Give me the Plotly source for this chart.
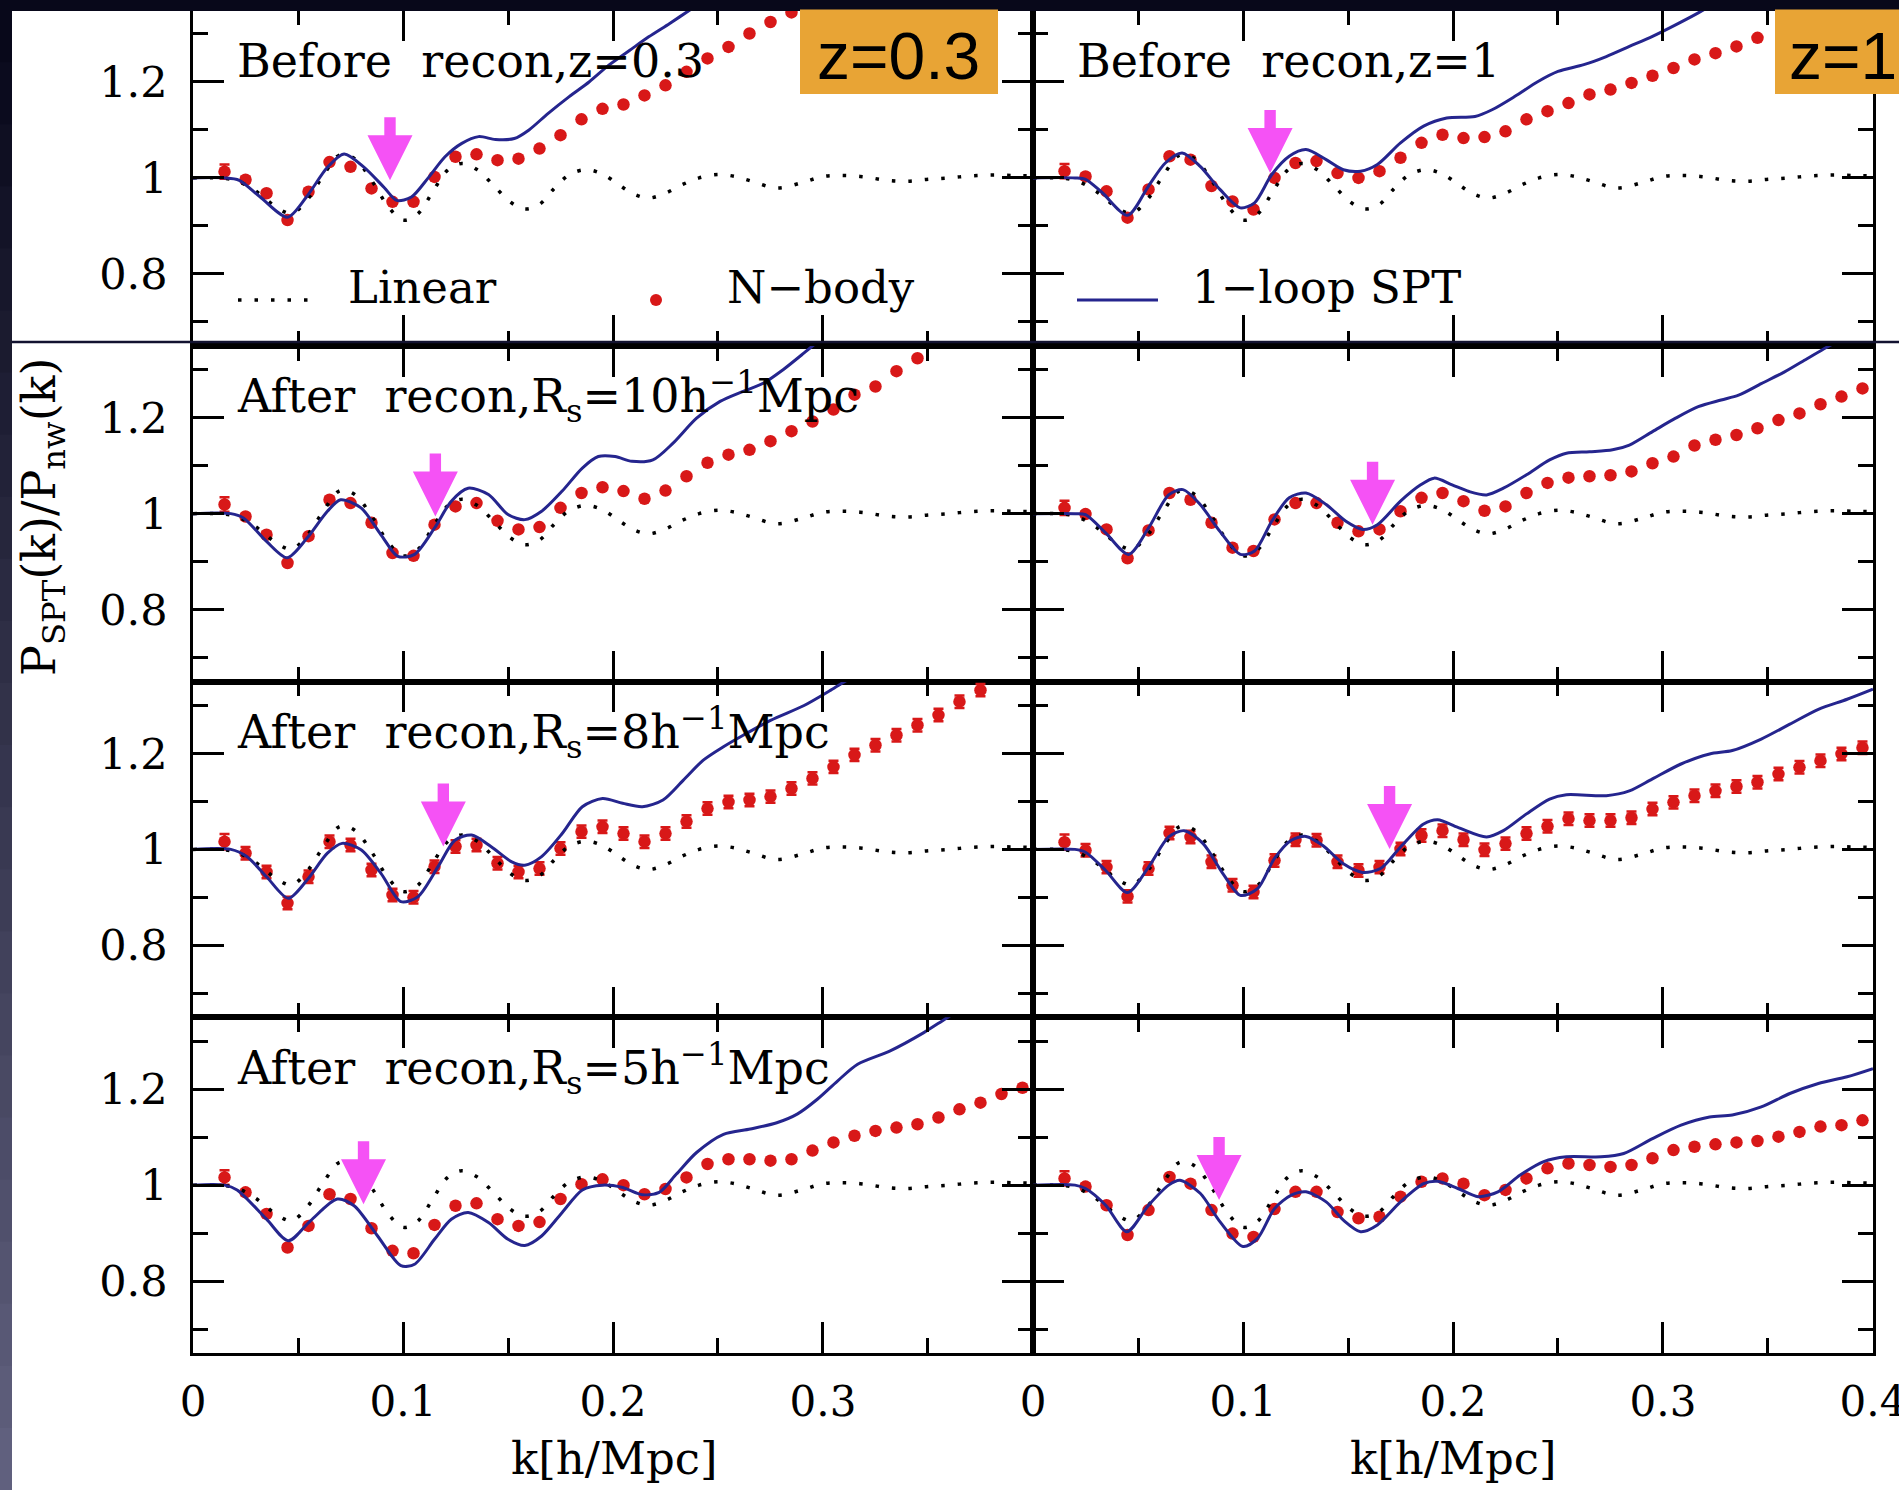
import plotly.graph_objects as go

# ---------------- data ----------------
NB_K = [0.015, 0.025, 0.035, 0.045, 0.055, 0.065, 0.075, 0.085, 0.095, 0.105,
        0.115, 0.125, 0.135, 0.145, 0.155, 0.165, 0.175, 0.185, 0.195, 0.205,
        0.215, 0.225, 0.235, 0.245, 0.255, 0.265, 0.275, 0.285, 0.295, 0.305,
        0.315, 0.325, 0.335, 0.345, 0.355, 0.365, 0.375, 0.385, 0.395]

NB_R1L = [1.013, 0.996, 0.968, 0.912, 0.971, 1.033, 1.023, 0.978, 0.950, 0.950,
          1.002, 1.044, 1.049, 1.037, 1.040, 1.061, 1.089, 1.122, 1.144, 1.153,
          1.172, 1.193, 1.221, 1.249, 1.273, 1.301, 1.325, 1.345, None, None,
          None, None, None, None, None, None, None, None, None]
NB_R1R = [1.014, 1.003, 0.972, 0.917, 0.976, 1.045, 1.038, 0.983, 0.951, 0.934,
          1.000, 1.031, 1.035, 1.010, 1.000, 1.014, 1.042, 1.073, 1.090, 1.083,
          1.085, 1.097, 1.122, 1.139, 1.156, 1.174, 1.184, 1.198, 1.213, 1.229,
          1.247, 1.260, 1.274, 1.292, None, None, None, None, None]
NB_R2L = [1.019, 0.994, 0.956, 0.897, 0.953, 1.029, 1.022, 0.981, 0.918, 0.912,
          0.977, 1.015, 1.022, 0.985, 0.967, 0.972, 1.012, 1.043, 1.055, 1.047,
          1.031, 1.048, 1.078, 1.106, 1.123, 1.133, 1.151, 1.172, 1.192, 1.217,
          1.248, 1.265, 1.297, 1.324, None, None, None, None, None]
NB_R2R = [1.012, 0.999, 0.967, 0.907, 0.965, 1.043, 1.029, 0.981, 0.929, 0.922,
          0.988, 1.022, 1.022, 0.981, 0.963, 0.967, 1.005, 1.033, 1.043, 1.026,
          1.006, 1.015, 1.043, 1.064, 1.075, 1.078, 1.080, 1.088, 1.105, 1.119,
          1.142, 1.154, 1.164, 1.178, 1.195, 1.209, 1.228, 1.244, 1.261]
NB_R3L = [1.016, 0.992, 0.953, 0.888, 0.943, 1.016, 1.009, 0.957, 0.905, 0.900,
          0.964, 1.006, 1.009, 0.971, 0.953, 0.960, 1.002, 1.037, 1.047, 1.033,
          1.016, 1.033, 1.058, 1.085, 1.099, 1.103, 1.110, 1.127, 1.148, 1.172,
          1.197, 1.217, 1.238, 1.259, 1.280, 1.308, 1.332, None, None]
NB_R3R = [1.015, 0.998, 0.963, 0.902, 0.960, 1.034, 1.026, 0.974, 0.925, 0.911,
          0.977, 1.020, 1.019, 0.974, 0.956, 0.963, 1.001, 1.029, 1.039, 1.020,
          0.999, 1.012, 1.033, 1.048, 1.064, 1.060, 1.060, 1.066, 1.084, 1.098,
          1.112, 1.122, 1.131, 1.140, 1.157, 1.171, 1.185, 1.199, 1.212]
NB_R4L = [1.016, 0.985, 0.940, 0.870, 0.915, 0.981, 0.971, 0.910, 0.863, 0.858,
          0.917, 0.957, 0.962, 0.929, 0.915, 0.923, 0.971, 1.002, 1.012, 1.000,
          0.981, 0.992, 1.016, 1.044, 1.054, 1.054, 1.051, 1.054, 1.072, 1.089,
          1.103, 1.113, 1.120, 1.127, 1.141, 1.158, 1.172, 1.190, 1.203]
NB_R4R = [1.014, 0.997, 0.958, 0.896, 0.948, 1.017, 1.003, 0.948, 0.899, 0.892,
          0.950, 0.986, 0.986, 0.944, 0.931, 0.934, 0.976, 1.007, 1.014, 1.003,
          0.979, 0.990, 1.014, 1.035, 1.045, 1.042, 1.038, 1.042, 1.056, 1.073,
          1.080, 1.085, 1.089, 1.092, 1.101, 1.111, 1.122, 1.125, 1.135]

ERR_A = [0.015, 0.006, 0.005, 0.005, 0.004, 0.004, 0.004, 0.004, 0.004, 0.004,
         0.003, 0.003, 0.003, 0.003, 0.003, 0.003, 0.003, 0.003, 0.003, 0.003,
         0.003, 0.003, 0.003, 0.003, 0.003, 0.003, 0.003, 0.003, 0.003, 0.003,
         0.003, 0.003, 0.003, 0.003, 0.003, 0.003, 0.003, 0.003, 0.003]
ERR_B = [0.016, 0.013, 0.013, 0.013, 0.013, 0.013, 0.013, 0.013, 0.013, 0.013,
         0.013, 0.013, 0.013, 0.013, 0.013, 0.013, 0.013, 0.013, 0.013, 0.013,
         0.013, 0.013, 0.013, 0.013, 0.013, 0.013, 0.013, 0.013, 0.013, 0.013,
         0.013, 0.013, 0.013, 0.013, 0.013, 0.013, 0.013, 0.013, 0.013]

LIN_K = [0, 0.01, 0.02, 0.03, 0.04, 0.047, 0.055, 0.062, 0.07, 0.077, 0.085, 0.093,
         0.1, 0.107, 0.114, 0.121, 0.128, 0.135, 0.143, 0.151, 0.158, 0.165, 0.172,
         0.179, 0.187, 0.195, 0.203, 0.21, 0.217, 0.225, 0.233, 0.241, 0.25, 0.258,
         0.266, 0.278, 0.29, 0.3, 0.31, 0.32, 0.33, 0.34, 0.35, 0.36, 0.37, 0.38,
         0.39, 0.4]
LIN_V = [1.0, 1.0, 0.995, 0.972, 0.938, 0.926, 0.958, 1.005, 1.048, 1.04, 0.995, 0.94,
         0.912, 0.925, 0.97, 1.015, 1.03, 1.018, 0.985, 0.95, 0.935, 0.945, 0.978,
         1.006, 1.017, 1.008, 0.985, 0.966, 0.958, 0.968, 0.986, 1.0, 1.007, 1.003,
         0.993, 0.979, 0.99, 1.003, 1.005, 1.002, 0.995, 0.993, 0.997, 1.0, 1.004,
         1.006, 1.005, 1.004]

SPT_R1L_K = [0, 0.015, 0.022, 0.032, 0.045, 0.054, 0.064, 0.072, 0.0815, 0.091, 0.097,
             0.104, 0.112, 0.12, 0.128, 0.136, 0.144, 0.153, 0.16, 0.169, 0.179, 0.1886,
             0.198, 0.208, 0.217, 0.227, 0.2366, 0.245]
SPT_R1L_V = [1.0, 1.0, 0.995, 0.96, 0.918, 0.96, 1.022, 1.05, 1.022, 0.98, 0.953,
             0.96, 1.0, 1.044, 1.072, 1.086, 1.08, 1.082, 1.10, 1.134, 1.169, 1.2,
             1.235, 1.266, 1.294, 1.322, 1.35, 1.375]
SPT_R1R_K = [0, 0.02, 0.025, 0.033, 0.045, 0.055, 0.063, 0.071, 0.0796, 0.089, 0.0987,
             0.1055, 0.1137, 0.122, 0.130, 0.1396, 0.1478, 0.156, 0.164, 0.175, 0.186,
             0.197, 0.2105, 0.2186, 0.2295, 0.2405, 0.25, 0.2623, 0.273, 0.284, 0.295,
             0.306, 0.3168, 0.325]
SPT_R1R_V = [1.0, 1.0, 0.997, 0.969, 0.922, 0.983, 1.031, 1.052, 1.024, 0.976, 0.9375,
             0.948, 1.007, 1.045, 1.059, 1.038, 1.017, 1.014, 1.028, 1.073, 1.108,
             1.125, 1.128, 1.142, 1.17, 1.201, 1.222, 1.236, 1.253, 1.274, 1.295,
             1.319, 1.344, 1.365]
SPT_R2L_K = [0, 0.018, 0.024, 0.035, 0.0448, 0.0543, 0.064, 0.0703, 0.08, 0.0895,
             0.0975, 0.1055, 0.115, 0.123, 0.131, 0.1407, 0.150, 0.158, 0.166, 0.1758,
             0.1854, 0.193, 0.201, 0.209, 0.219, 0.2286, 0.2398, 0.251, 0.262, 0.2717,
             0.281, 0.291, 0.2957, 0.305]
SPT_R2L_V = [1.0, 1.0, 0.991, 0.942, 0.908, 0.949, 1.005, 1.029, 1.012, 0.956,
             0.911, 0.915, 0.97, 1.026, 1.053, 1.04, 0.998, 0.9875, 1.005, 1.047,
             1.095, 1.119, 1.119, 1.109, 1.112, 1.147, 1.199, 1.234, 1.255, 1.272,
             1.30, 1.335, 1.352, 1.38]
SPT_R2R_K = [0, 0.02, 0.025, 0.0346, 0.0455, 0.055, 0.0646, 0.0714, 0.0796, 0.089,
             0.0987, 0.1055, 0.1137, 0.122, 0.130, 0.1396, 0.149, 0.157, 0.164, 0.175,
             0.1846, 0.191, 0.1996, 0.2077, 0.216, 0.224, 0.235, 0.246, 0.254, 0.265,
             0.276, 0.284, 0.295, 0.306, 0.3168, 0.3277, 0.336, 0.3468, 0.3577,
             0.3686, 0.378, 0.39]
SPT_R2R_V = [1.0, 1.0, 0.998, 0.96, 0.915, 0.97, 1.039, 1.05, 1.019, 0.963,
             0.915, 0.922, 0.984, 1.033, 1.043, 1.019, 0.984, 0.967, 0.977, 1.026,
             1.06, 1.074, 1.06, 1.046, 1.039, 1.053, 1.081, 1.112, 1.126, 1.129,
             1.133, 1.143, 1.171, 1.199, 1.223, 1.237, 1.247, 1.271, 1.295,
             1.323, 1.347, 1.375]
SPT_R3L_K = [0, 0.018, 0.0256, 0.035, 0.0454, 0.0543, 0.064, 0.071, 0.08, 0.0895,
             0.099, 0.107, 0.1167, 0.1247, 0.1327, 0.142, 0.1518, 0.158, 0.166, 0.1758,
             0.1854, 0.195, 0.2046, 0.214, 0.2238, 0.2334, 0.243, 0.2526, 0.262,
             0.275, 0.291, 0.3037, 0.31, 0.318]
SPT_R3L_V = [1.0, 1.0, 0.985, 0.943, 0.898, 0.936, 0.992, 1.0125, 0.999, 0.95,
             0.891, 0.901, 0.964, 1.019, 1.03, 1.0056, 0.974, 0.967, 0.985, 1.033,
             1.089, 1.106, 1.096, 1.089, 1.103, 1.144, 1.186, 1.214, 1.238,
             1.269, 1.30, 1.332, 1.349, 1.37]
SPT_R3R_K = [0, 0.02, 0.025, 0.0346, 0.045, 0.055, 0.0646, 0.072, 0.081, 0.0905,
             0.0987, 0.1069, 0.115, 0.123, 0.130, 0.138, 0.1478, 0.157, 0.1655, 0.175,
             0.186, 0.1927, 0.2023, 0.216, 0.224, 0.235, 0.246, 0.254, 0.273, 0.284,
             0.295, 0.3086, 0.3222, 0.333, 0.3468, 0.3604, 0.374, 0.3877, 0.4]
SPT_R3R_V = [1.0, 1.0, 0.994, 0.956, 0.91, 0.963, 1.026, 1.039, 1.012, 0.949,
             0.904, 0.918, 0.981, 1.019, 1.027, 1.008, 0.970, 0.952, 0.96, 1.005,
             1.053, 1.062, 1.046, 1.026, 1.039, 1.074, 1.105, 1.114, 1.112, 1.122,
             1.147, 1.178, 1.199, 1.206, 1.23, 1.261, 1.292, 1.313, 1.334]
SPT_R4L_K = [0, 0.015, 0.021, 0.035, 0.0454, 0.056, 0.0687, 0.0767, 0.0879, 0.099,
             0.1055, 0.115, 0.123, 0.131, 0.1407, 0.150, 0.158, 0.166, 0.1758, 0.1854,
             0.195, 0.2046, 0.214, 0.222, 0.2302, 0.2398, 0.2526, 0.2654, 0.278,
             0.2877, 0.2973, 0.3069, 0.3165, 0.332, 0.348, 0.358, 0.365]
SPT_R4L_V = [1.0, 1.0, 0.99, 0.929, 0.884, 0.926, 0.971, 0.957, 0.894, 0.832,
             0.835, 0.887, 0.929, 0.943, 0.922, 0.887, 0.874, 0.894, 0.943, 0.99,
             1.0, 0.995, 0.98, 0.985, 1.023, 1.068, 1.106, 1.117, 1.13,
             1.148, 1.179, 1.217, 1.252, 1.28, 1.318, 1.346, 1.365]
SPT_R4R_K = [0, 0.02, 0.025, 0.0346, 0.0447, 0.055, 0.0646, 0.070, 0.0796, 0.089,
             0.1, 0.1069, 0.115, 0.123, 0.130, 0.1396, 0.1478, 0.156, 0.164, 0.175,
             0.186, 0.1927, 0.2023, 0.212, 0.2214, 0.232, 0.2432, 0.254, 0.2705,
             0.2813, 0.295, 0.3086, 0.3222, 0.333, 0.3468, 0.3604, 0.374, 0.3877, 0.4]
SPT_R4R_V = [1.0, 1.0, 0.993, 0.958, 0.903, 0.958, 1.0, 1.01, 0.983, 0.924,
             0.872, 0.889, 0.951, 0.979, 0.986, 0.965, 0.927, 0.903, 0.917, 0.965,
             1.003, 1.008, 0.993, 0.976, 0.986, 1.021, 1.049, 1.059, 1.059,
             1.066, 1.097, 1.125, 1.142, 1.146, 1.163, 1.191, 1.212, 1.226, 1.243]

PANEL_LABELS = ["Before\u00a0 recon,z=0.3", "Before\u00a0 recon,z=1",
                "After\u00a0 recon,R<sub>s</sub>=10h<sup>\u2212</sup><sup>1</sup>Mpc", "",
                "After\u00a0 recon,R<sub>s</sub>=8h<sup>\u2212</sup><sup>1</sup>Mpc", "",
                "After\u00a0 recon,R<sub>s</sub>=5h<sup>\u2212</sup><sup>1</sup>Mpc", ""]
ARROW_K = [0.0938, 0.1129, 0.1154, 0.1617, 0.1192, 0.1698, 0.0812, 0.0886]
ARROW_V = [0.995, 1.010, 0.994, 0.977, 1.006, 1.001, 0.960, 0.969]

X_TICKS = [0, 0.1, 0.2, 0.3, 0.4]
X_TICKTEXT_LEFT = ["0", "0.1", "0.2", "0.3", " "]
X_TICKTEXT_RIGHT = ["0", "0.1", "0.2", "0.3", "0.4"]
Y_TICKS = [0.8, 1.0, 1.2]
Y_TICKTEXT = ["0.8", "1", "1.2"]

NB_SERIES = [NB_R1L, NB_R1R, NB_R2L, NB_R2R, NB_R3L, NB_R3R, NB_R4L, NB_R4R]
ERR_SERIES = [ERR_A, ERR_A, ERR_A, ERR_A, ERR_B, ERR_B, ERR_A, ERR_A]
SPT_SERIES = [(SPT_R1L_K, SPT_R1L_V), (SPT_R1R_K, SPT_R1R_V),
              (SPT_R2L_K, SPT_R2L_V), (SPT_R2R_K, SPT_R2R_V),
              (SPT_R3L_K, SPT_R3L_V), (SPT_R3R_K, SPT_R3R_V),
              (SPT_R4L_K, SPT_R4L_V), (SPT_R4R_K, SPT_R4R_V)]

# ---------------- layout constants ----------------
W, H = 1899, 1490
ML, MR, MT, MB = 193, 26, 10, 137
PW = W - ML - MR
PH = H - MT - MB
ROW_H = PH / 4.0

RED = "#D81818"
BLUE = "#25258E"
MAGENTA = "#F552F5"
ORANGE = "#E8A435"
SERIF = "DejaVu Serif"
DOT_DASH = "3.5px,13px"


def xp(px):
    return (px - ML) / PW


def yp(py):
    return (H - MB - py) / PH


fig = go.Figure()
shapes = []
annotations = []

XR = [0, 0.4]
YR = [0.65, 1.35]
XR_AX = [-0.00001, 0.40001]
dk_px = (XR[1] - XR[0]) / (PW / 2.0)
dv_px = (YR[1] - YR[0]) / ROW_H

for p in range(8):
    r, c = divmod(p, 2)
    n = p + 1
    xa = "x" if n == 1 else f"x{n}"
    ya = "y" if n == 1 else f"y{n}"
    xkey = "xaxis" if n == 1 else f"xaxis{n}"
    ykey = "yaxis" if n == 1 else f"yaxis{n}"

    fig.add_trace(go.Scatter(
        x=NB_K, y=NB_SERIES[p], mode="markers",
        marker=dict(symbol="circle", size=12.5, color=RED),
        error_y=dict(type="data", array=ERR_SERIES[p], color=RED, thickness=2.5, width=5),
        xaxis=xa, yaxis=ya, showlegend=False, hoverinfo="skip"))
    fig.add_trace(go.Scatter(
        x=LIN_K, y=LIN_V, mode="lines",
        line=dict(color="black", width=3.5, dash=DOT_DASH, shape="spline"),
        xaxis=xa, yaxis=ya, showlegend=False, hoverinfo="skip"))
    sk, sv = SPT_SERIES[p]
    fig.add_trace(go.Scatter(
        x=sk, y=sv, mode="lines",
        line=dict(color=BLUE, width=3, shape="spline", smoothing=0.8),
        xaxis=xa, yaxis=ya, showlegend=False, hoverinfo="skip"))

    y_top = 1 - r / 4.0
    y_bot = 1 - (r + 1) / 4.0
    fig.layout[xkey] = dict(
        domain=[c * 0.5, (c + 1) * 0.5], anchor=ya, range=XR_AX,
        tickmode="array", tickvals=X_TICKS,
        ticktext=X_TICKTEXT_LEFT if c == 0 else X_TICKTEXT_RIGHT,
        showticklabels=(r == 3), ticks="inside", ticklen=31, tickwidth=3,
        tickcolor="black", showline=True, linewidth=2.5, linecolor="black",
        mirror="ticks", showgrid=False, zeroline=False,
        minor=dict(ticks="inside", ticklen=15, tickwidth=3, tickcolor="black",
                   tickvals=[0.05, 0.15, 0.25, 0.35], showgrid=False),
        tickfont=dict(family=SERIF, size=42, color="black"),
        ticklabelstandoff=10, ticklabeloverflow="allow")
    fig.layout[ykey] = dict(
        domain=[y_bot, y_top], anchor=xa, range=YR,
        tickmode="array", tickvals=Y_TICKS, ticktext=Y_TICKTEXT,
        showticklabels=(c == 0), ticks="inside", ticklen=31, tickwidth=3,
        tickcolor="black", showline=True, linewidth=2.5, linecolor="black",
        mirror="ticks", showgrid=False, zeroline=False,
        minor=dict(ticks="inside", ticklen=15, tickwidth=3, tickcolor="black",
                   tickvals=[0.7, 0.9, 1.1, 1.3], showgrid=False),
        tickfont=dict(family=SERIF, size=43, color="black"),
        ticklabelstandoff=14)

    # magenta arrow
    k0, v0 = ARROW_K[p], ARROW_V[p]
    hw, sw = 22.5 * dk_px, 5.7 * dk_px
    hh, ht = 45 * dv_px, 63 * dv_px
    path = (f"M {k0},{v0} L {k0 - hw},{v0 + hh} L {k0 - sw},{v0 + hh} "
            f"L {k0 - sw},{v0 + ht} L {k0 + sw},{v0 + ht} L {k0 + sw},{v0 + hh} "
            f"L {k0 + hw},{v0 + hh} Z")
    shapes.append(dict(type="path", path=path, xref=xa, yref=ya,
                       fillcolor=MAGENTA, line=dict(width=0), layer="above"))

    # panel label
    if PANEL_LABELS[p]:
        row_top = MT + r * ROW_H
        lx = ML + c * PW / 2.0 + 42
        annotations.append(dict(
            text=PANEL_LABELS[p], x=xp(lx), y=yp(row_top + 51), xref="paper", yref="paper",
            xanchor="left", yanchor="middle", showarrow=False,
            font=dict(family=SERIF, size=46, color="black")))

# ---------------- legend (drawn in row 1) ----------------
shapes.append(dict(type="line", xref="paper", yref="paper",
                   x0=xp(238), x1=xp(318), y0=yp(300), y1=yp(300),
                   line=dict(color="black", width=3.5, dash=DOT_DASH)))
shapes.append(dict(type="circle", xref="paper", yref="paper",
                   x0=xp(650), x1=xp(662), y0=yp(306), y1=yp(294),
                   fillcolor=RED, line=dict(width=0)))
shapes.append(dict(type="line", xref="paper", yref="paper",
                   x0=xp(1077), x1=xp(1158), y0=yp(300), y1=yp(300),
                   line=dict(color=BLUE, width=3)))
for txt, lx in [("Linear", 346), ("N\u2212body", 725), ("1\u2212loop SPT", 1190)]:
    annotations.append(dict(text=txt, x=xp(lx), y=yp(288), xref="paper", yref="paper",
                            xanchor="left", yanchor="middle", showarrow=False,
                            font=dict(family=SERIF, size=45, color="black")))

# ---------------- axis titles ----------------
for cx in [614, 1453]:
    annotations.append(dict(text="k[h/Mpc]", x=xp(cx), y=yp(1458), xref="paper", yref="paper",
                            xanchor="center", yanchor="middle", showarrow=False,
                            font=dict(family=SERIF, size=45, color="black")))
annotations.append(dict(text="P<sub>SPT</sub>(k)/P<sub>nw</sub>(k)", x=xp(42), y=yp(517),
                        xref="paper", yref="paper", xanchor="center", yanchor="middle",
                        textangle=-90, showarrow=False,
                        font=dict(family=SERIF, size=46, color="black")))

# ---------------- slide decorations ----------------
n_band = 24
for i in range(n_band):
    t = i / (n_band - 1)
    rr = int(8 + t * (96 - 8))
    gg = int(8 + t * (96 - 8))
    bb = int(26 + t * (126 - 26))
    y0 = i * H / n_band
    y1 = (i + 1) * H / n_band + 1
    shapes.append(dict(type="rect", xref="paper", yref="paper",
                       x0=xp(0), x1=xp(12), y0=yp(y1), y1=yp(y0),
                       fillcolor=f"rgb({rr},{gg},{bb})", line=dict(width=0), layer="above"))
shapes.append(dict(type="rect", xref="paper", yref="paper",
                   x0=xp(0), x1=xp(W), y0=yp(11), y1=yp(0),
                   fillcolor="#08081A", line=dict(width=0), layer="above"))
shapes.append(dict(type="line", xref="paper", yref="paper",
                   x0=xp(12), x1=xp(W), y0=yp(342), y1=yp(342),
                   line=dict(color="#121230", width=2.5), layer="above"))

# z labels
shapes.append(dict(type="rect", xref="paper", yref="paper",
                   x0=xp(800), x1=xp(998), y0=yp(94), y1=yp(9.5),
                   fillcolor=ORANGE, line=dict(width=0), layer="above"))
shapes.append(dict(type="rect", xref="paper", yref="paper",
                   x0=xp(1775), x1=xp(W + 5), y0=yp(94), y1=yp(9.5),
                   fillcolor=ORANGE, line=dict(width=0), layer="above"))
annotations.append(dict(text="z=0.3", x=xp(898), y=yp(56), xref="paper", yref="paper",
                        xanchor="center", yanchor="middle", showarrow=False,
                        font=dict(family="Liberation Sans", size=66, color="black")))
annotations.append(dict(text="z=1", x=xp(1787), y=yp(56), xref="paper", yref="paper",
                        xanchor="left", yanchor="middle", showarrow=False,
                        font=dict(family="Liberation Sans", size=66, color="black")))

fig.update_layout(
    width=W, height=H,
    margin=dict(l=ML, r=MR, t=MT, b=MB, autoexpand=False),
    paper_bgcolor="white", plot_bgcolor="white",
    showlegend=False,
    font=dict(family=SERIF, color="black"),
    shapes=shapes, annotations=annotations,
)

fig.write_html("out.html")
